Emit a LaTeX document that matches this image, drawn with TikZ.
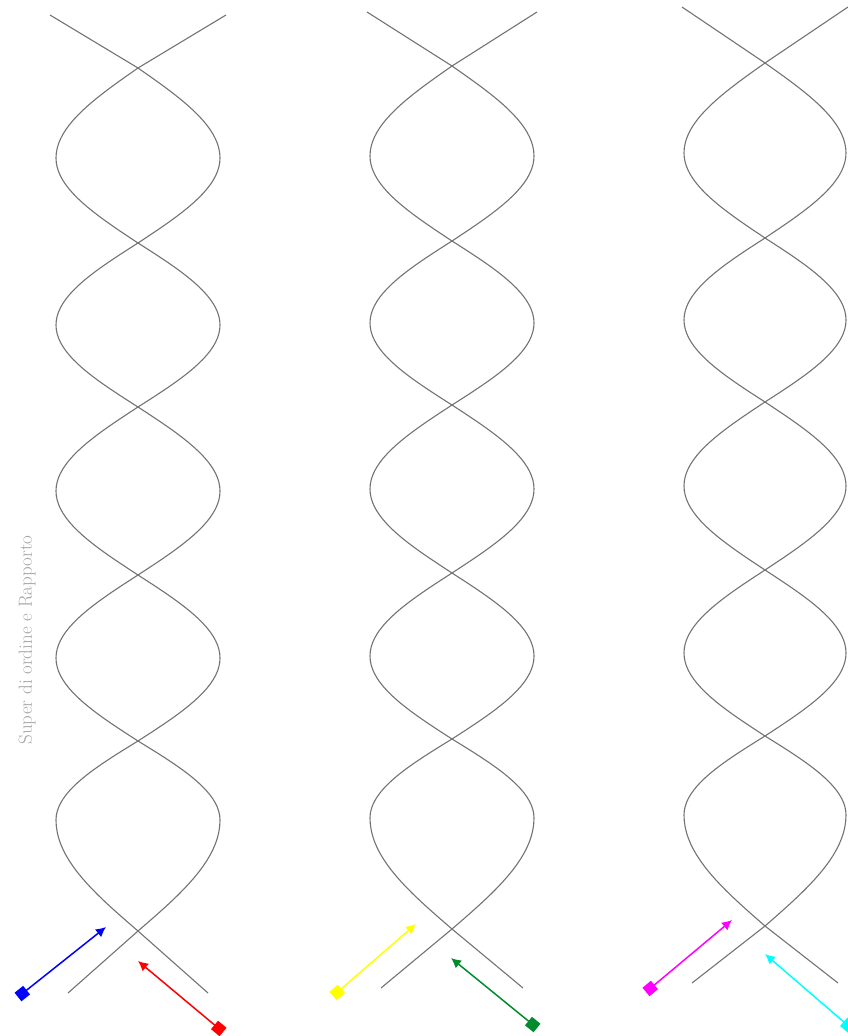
\documentclass[tikz,border=0pt]{standalone}
\usetikzlibrary{arrows.meta}
\definecolor{dgreen}{RGB}{0,140,45}
\definecolor{vblue}{RGB}{0,0,255}
\definecolor{vred}{RGB}{255,0,0}
\definecolor{vyellow}{RGB}{255,255,0}
\definecolor{vmagenta}{RGB}{255,0,255}
\definecolor{vcyan}{RGB}{0,255,255}
\begin{document}
\begin{tikzpicture}[x=1pt,y=-1pt,
  strand/.style={draw=black!55, line width=1.1pt, line join=round},
  vec/.style={line width=1.5pt, {Square[length=11pt,width=11pt]}-{Latex[length=10pt,width=10pt]}}]
\useasboundingbox (0,0) rectangle (848,1036);
% helices: center / vertical shift / top half-spread / top y / bottom half-spread / bottom y / amplitude
\foreach \c/\dy/\t/\ty/\b/\by/\A in {138/0/88/15/70/993/82, 452/-2/85/12/71/988/82, 765/-5/83/7/73/983/81}{
  \foreach \s in {1,-1}{
    \draw[strand] ({\c-(\s)*\t},\ty) -- ({\c},{68+(\dy)})
      \foreach \ya/\yb/\q in {68/158/0,158/243/1,243/325/2,325/407/3,407/491/4,491/575/5,575/658/6,658/741/7,741/820/8,820/931/9}{
        -- plot[variable=\u, domain=0:90, samples=20] ({\c+(\s)*\A*sin(\u+90*\q)},{\ya+(\dy)+(\yb-\ya)*\u/90})
      }
      -- ({\c-(\s)*\b},\by);
  }
}
\node[rotate=90, text=black!35, font=\fontsize{19}{19}\selectfont] (lbl) at (27,640) {Super di ordine e Rapporto};
% vectors
\coordinate (bt) at (18,997);  \coordinate (bh) at (106,927);
\coordinate (rt) at (223,1032); \coordinate (rh) at (138,961);
\coordinate (yt) at (333,996); \coordinate (yh) at (416,924);
\coordinate (gt) at (537,1028); \coordinate (gh) at (451,958);
\coordinate (mt) at (646,992); \coordinate (mh) at (732,920);
\coordinate (ct) at (852,1029); \coordinate (ch) at (765,954);
\draw[vec, vblue] (bt) -- (bh);
\draw[vec, vred] (rt) -- (rh);
\draw[vec, vyellow] (yt) -- (yh);
\draw[vec, dgreen] (gt) -- (gh);
\draw[vec, vmagenta] (mt) -- (mh);
\draw[vec, vcyan] (ct) -- (ch);
\end{tikzpicture}
\end{document}
